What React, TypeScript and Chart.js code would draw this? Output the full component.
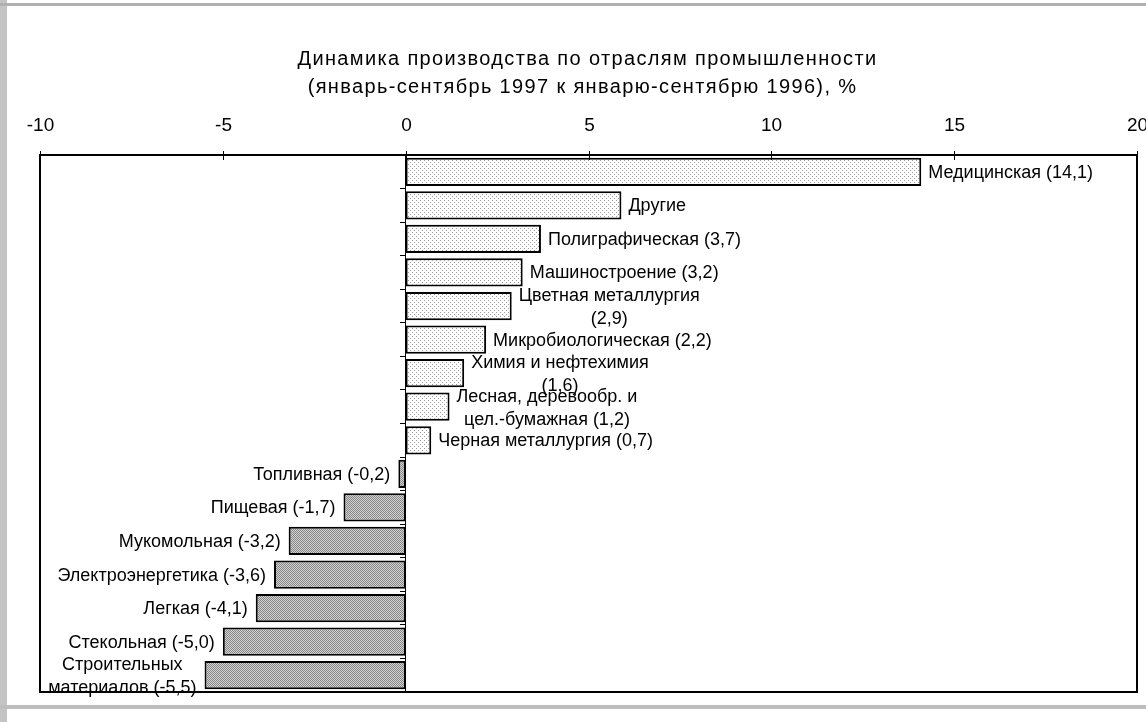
import { useEffect, useRef } from "react";
import { Chart, registerables } from "chart.js";

Chart.register(...registerables);

const categories = [
  "Медицинская",
  "Другие",
  "Полиграфическая",
  "Машиностроение",
  "Цветная металлургия",
  "Микробиологическая",
  "Химия и нефтехимия",
  "Лесная, деревообр. и цел.-бумажная",
  "Черная металлургия",
  "Топливная",
  "Пищевая",
  "Мукомольная",
  "Электроэнергетика",
  "Легкая",
  "Стекольная",
  "Строительных материалов",
];

const values = [14.1, 5.9, 3.7, 3.2, 2.9, 2.2, 1.6, 1.2, 0.7, -0.2, -1.7, -3.2, -3.6, -4.1, -5.0, -5.5];

const barLabels: string[][] = [
  ["Медицинская (14,1)"],
  ["Другие"],
  ["Полиграфическая (3,7)"],
  ["Машиностроение (3,2)"],
  ["Цветная металлургия", "(2,9)"],
  ["Микробиологическая (2,2)"],
  ["Химия и нефтехимия", "(1,6)"],
  ["Лесная, деревообр. и", "цел.-бумажная (1,2)"],
  ["Черная металлургия (0,7)"],
  ["Топливная (-0,2)"],
  ["Пищевая (-1,7)"],
  ["Мукомольная (-3,2)"],
  ["Электроэнергетика (-3,6)"],
  ["Легкая (-4,1)"],
  ["Стекольная (-5,0)"],
  ["Строительных", "материалов (-5,5)"],
];

const xTickValues = [-10, -5, 0, 5, 10, 15, 20];

const titleLines = [
  "Динамика производства по отраслям промышленности",
  "(январь-сентябрь 1997 к январю-сентябрю 1996), %",
];

const FONT = '"Liberation Sans", Arial, sans-serif';

function makePattern(dark: boolean): CanvasPattern | string {
  const c = document.createElement("canvas");
  const ctx = c.getContext("2d");
  if (!ctx) return dark ? "#aaaaaa" : "#eeeeee";
  if (dark) {
    c.width = 2;
    c.height = 2;
    ctx.fillStyle = "#d4d4d4";
    ctx.fillRect(0, 0, 2, 2);
    ctx.fillStyle = "#858585";
    ctx.fillRect(0, 0, 1, 1);
    ctx.fillRect(1, 1, 1, 1);
  } else {
    c.width = 4;
    c.height = 4;
    ctx.fillStyle = "#ffffff";
    ctx.fillRect(0, 0, 4, 4);
    ctx.fillStyle = "#9a9a9a";
    ctx.fillRect(0, 0, 1, 1);
    ctx.fillRect(2, 2, 1, 1);
  }
  const p = ctx.createPattern(c, "repeat");
  return p || (dark ? "#aaaaaa" : "#eeeeee");
}

function setSpacing(ctx: any, s: string) {
  if ("letterSpacing" in ctx) ctx.letterSpacing = s;
}

const decorPlugin = {
  id: "decor",
  beforeDraw(chart: any) {
    const { ctx, width, height } = chart;
    ctx.save();
    ctx.fillStyle = "#ffffff";
    ctx.fillRect(0, 0, width, height);
    // scan-like border remnants
    ctx.fillStyle = "#c4c4c4";
    ctx.fillRect(0, 0, 7, height);
    ctx.fillStyle = "#b0b0b0";
    ctx.fillRect(0, 3, width, 3);
    ctx.fillStyle = "#bdbdbd";
    ctx.fillRect(0, 705, width, 4);
    ctx.restore();
  },
  afterDatasetsDraw(chart: any) {
    const { ctx } = chart;
    const meta = chart.getDatasetMeta(0);
    ctx.save();
    ctx.font = `18px ${FONT}`;
    setSpacing(ctx, "0px");
    ctx.fillStyle = "#000000";
    ctx.textBaseline = "middle";
    ctx.textAlign = "center";
    meta.data.forEach((bar: any, i: number) => {
      const lines = barLabels[i];
      const v = values[i];
      const widths = lines.map((l) => ctx.measureText(l).width);
      const w = Math.max(...widths);
      const cx = v >= 0 ? bar.x + 7 + w / 2 : bar.x - 8 - w / 2;
      if (lines.length === 1) {
        ctx.fillText(lines[0], cx, bar.y + 1);
      } else {
        ctx.fillText(lines[0], cx, bar.y - 10);
        ctx.fillText(lines[1], cx, bar.y + 13);
      }
    });
    ctx.restore();
  },
  afterDraw(chart: any) {
    const { ctx, chartArea } = chart;
    const xs = chart.scales.x;
    ctx.save();
    // frame
    ctx.strokeStyle = "#000000";
    ctx.lineWidth = 2;
    ctx.strokeRect(chartArea.left, chartArea.top, chartArea.right - chartArea.left, chartArea.bottom - chartArea.top);
    // x ticks at top
    ctx.lineWidth = 1;
    ctx.font = `19px ${FONT}`;
    ctx.fillStyle = "#000000";
    ctx.textAlign = "center";
    ctx.textBaseline = "middle";
    xTickValues.forEach((t) => {
      const px = Math.round(xs.getPixelForValue(t)) + 0.5;
      ctx.beginPath();
      ctx.moveTo(px, chartArea.top - 4);
      ctx.lineTo(px, chartArea.top + 5);
      ctx.stroke();
      ctx.fillText(String(t), px, 126);
    });
    // title
    const tcx = (chartArea.left + chartArea.right) / 2;
    ctx.font = `20px ${FONT}`;
    setSpacing(ctx, "1.35px");
    ctx.fillText(titleLines[0], tcx - 1, 59);
    ctx.fillText(titleLines[1], tcx - 6, 87);
    ctx.restore();
  },
};

export default function App() {
  const ref = useRef<HTMLCanvasElement | null>(null);
  useEffect(() => {
    if (!ref.current) return;
    const light = makePattern(false);
    const dark = makePattern(true);
    const chart = new Chart(ref.current, {
      type: "bar",
      data: {
        labels: categories,
        datasets: [
          {
            data: values,
            backgroundColor: values.map((v) => (v >= 0 ? light : dark)) as any,
            borderColor: "#000000",
            borderWidth: 2,
            borderSkipped: false,
            categoryPercentage: 1,
            barPercentage: 0.84,
          },
        ],
      },
      options: {
        indexAxis: "y",
        responsive: false,
        animation: false,
        devicePixelRatio: 1,
        layout: { padding: { left: 40, right: 9, top: 147, bottom: 30 } },
        plugins: {
          legend: { display: false },
          title: { display: false },
          tooltip: { enabled: false },
        },
        scales: {
          x: {
            type: "linear",
            position: "top",
            min: -10,
            max: 20,
            ticks: { display: false, stepSize: 5 },
            grid: { display: false },
            border: { display: false },
          },
          y: {
            type: "category",
            position: { x: 0 } as any,
            ticks: { display: false },
            grid: {
              display: true,
              drawOnChartArea: false,
              drawTicks: true,
              tickLength: 5,
              offset: true,
              color: "#000000",
              lineWidth: 1,
            },
            border: { display: true, color: "#000000", width: 1 },
          },
        },
      },
      plugins: [decorPlugin],
    });
    return () => chart.destroy();
  }, []);
  return (
    <div style={{ position: "absolute", left: 0, top: 0, width: 1146, height: 722 }}>
      <canvas ref={ref} width={1146} height={722} style={{ display: "block" }} />
    </div>
  );
}
